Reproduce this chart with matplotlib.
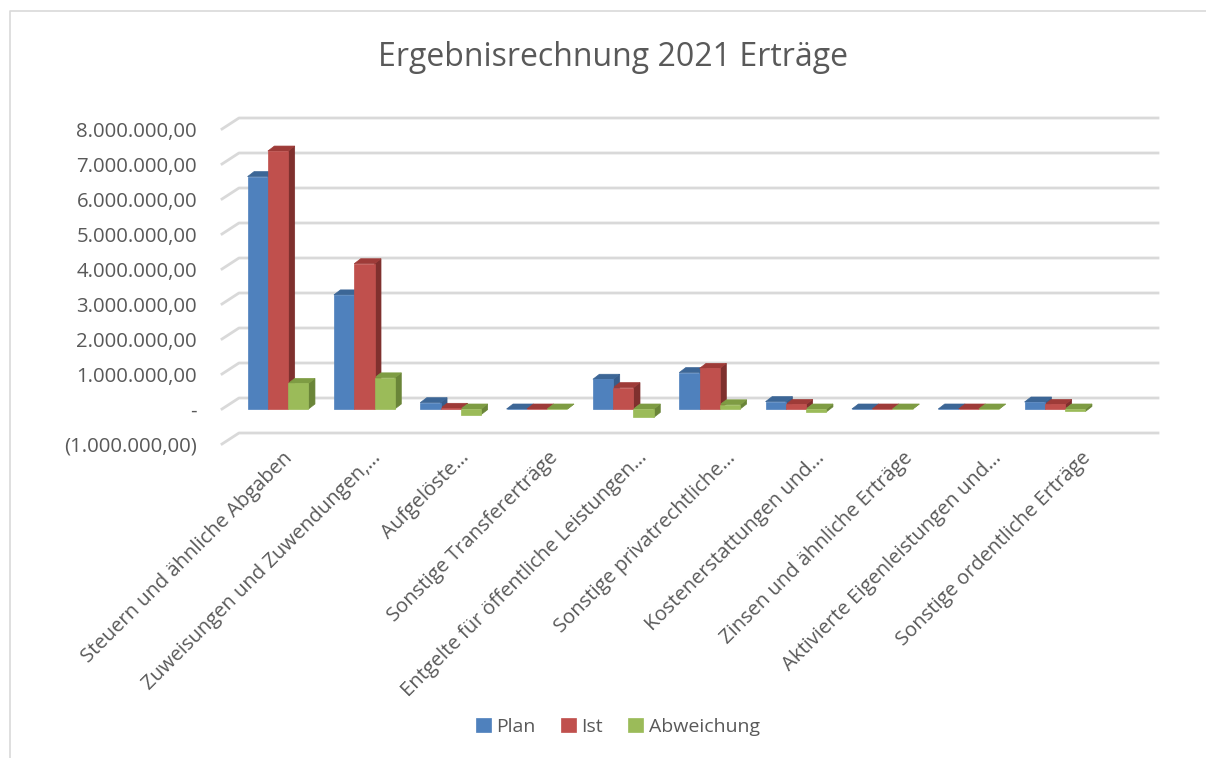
import matplotlib
matplotlib.use("Agg")
import matplotlib.pyplot as plt
from matplotlib.patches import Polygon
from matplotlib.lines import Line2D
from matplotlib.ticker import FuncFormatter
import numpy as np

categories = ["Steuern und ähnliche Abgaben", "Zuweisungen und Zuwendungen,…", "Aufgelöste…",
              "Sonstige Transfererträge", "Entgelte für öffentliche Leistungen…",
              "Sonstige privatrechtliche…", "Kostenerstattungen und…",
              "Zinsen und ähnliche Erträge", "Aktivierte Eigenleistungen und…",
              "Sonstige ordentliche Erträge"]
plan = [6640000, 3260000, 180000, 0, 850000, 1040000, 210000, 0, 0, 200000]
ist = [7370000, 4150000, 20000, 0, 610000, 1160000, 130000, 0, 0, 130000]
abweichung = [730000, 890000, -160000, 0, -240000, 120000, -80000, 0, 0, -70000]
series_names = ["Plan", "Ist", "Abweichung"]
yticks = [-1000000, 0, 1000000, 2000000, 3000000, 4000000, 5000000, 6000000, 7000000, 8000000]

face = ["#4F81BD", "#C0504D", "#9BBB59"]
top_c = ["#3C6696", "#9E3B38", "#7E9C43"]
side_c = ["#385D8A", "#7F302E", "#6A8538"]

W, H = 1206, 758
plt.rcParams['font.family'] = ['Open Sans', 'DejaVu Sans']
fig = plt.figure(figsize=(W/100, H/100), dpi=100)
fig.patch.set_facecolor("white")

# outer border (left and top edges visible)
fig.add_artist(Line2D([10/W, 10/W, 1.0], [0.0, 1-11/H, 1-11/H], transform=fig.transFigure,
                      color="#D9D9D9", linewidth=1.2))

ax_l, ax_r, ax_t, ax_b = 222, 1141, 129, 444
ax = fig.add_axes([ax_l/W, 1-ax_b/H, (ax_r-ax_l)/W, (ax_b-ax_t)/H])
ax.set_ylim(-1000000, 8000000)
ax.set_xlim(-0.649, 9.996)
for s in ax.spines.values():
    s.set_visible(False)
ax.set_facecolor("none")

def fmt(v, pos=None):
    if abs(v) < 1e-6:
        return "-"
    s = f"{abs(v):,.2f}".replace(",", "X").replace(".", ",").replace("X", ".")
    return f"({s})" if v < 0 else s

ax.set_yticks(yticks)
ax.yaxis.set_major_formatter(FuncFormatter(fmt))
ax.tick_params(axis='y', length=0, pad=18, labelsize=14.7, labelcolor="#595959")
ax.tick_params(axis='x', length=0)
ax.set_xticks([])

# back-wall gridlines with depth offset
dx, dy = 17, 11  # pixels
trans = ax.transData
for yv in yticks:
    x0, y0 = trans.transform((ax.get_xlim()[0], yv))
    x0 = ax_l
    x_end = 1158
    xs = [x0, x0 + dx, x_end]
    ys = [y0, y0 + dy, y0 + dy]
    ax.add_line(Line2D(xs, ys, transform=None, color="#D9D9D9", linewidth=2.0,
                       zorder=0.5, clip_on=False))

# bars with 3D look
x = np.arange(len(categories))
bw = 0.235
bdx, bdy = 6.5, 5
data = [plan, ist, abweichung]
for si, vals in enumerate(data):
    xs = x + (si-1)*bw
    ax.bar(xs, vals, width=bw, color=face[si], edgecolor=face[si], linewidth=0.5,
           zorder=3, label=series_names[si])
    for xi, v in zip(xs, vals):
        lx, by = trans.transform((xi - bw/2, 0))
        rx, ty = trans.transform((xi + bw/2, v))
        hi = max(by, ty)
        lo = min(by, ty)
        topface = Polygon([(lx, hi), (rx, hi), (rx+bdx, hi+bdy), (lx+bdx, hi+bdy)],
                          closed=True, transform=None, facecolor=top_c[si], edgecolor=top_c[si],
                          linewidth=0.5, zorder=2, clip_on=False)
        sideface = Polygon([(rx, lo), (rx, hi), (rx+bdx, hi+bdy), (rx+bdx, lo+bdy)],
                           closed=True, transform=None, facecolor=side_c[si], edgecolor=side_c[si],
                           linewidth=0.5, zorder=2, clip_on=False)
        ax.add_patch(sideface)
        ax.add_patch(topface)

# category labels (front edge of the 3D floor, slightly wider spacing)
for i, (xi, lab) in enumerate(zip(x, categories)):
    px, _ = trans.transform((xi, 0))
    fig.text((px + 11 + 2.4*i)/W, 1-455/H, lab, rotation=45, rotation_mode='anchor',
             ha='right', va='center', fontsize=14.5, color="#595959")

fig.text(613/W, 1-57/H, "Ergebnisrechnung 2021 Erträge", ha='center', va='center',
         fontsize=23, color="#595959")

leg = fig.legend(loc='center', bbox_to_anchor=(618/W, 1-727/H), ncol=3, frameon=False,
                 fontsize=14, handlelength=0.75, handleheight=0.75, handletextpad=0.3,
                 columnspacing=1.3, labelcolor="#595959")

fig.savefig("out.png", dpi=100, facecolor="white")
